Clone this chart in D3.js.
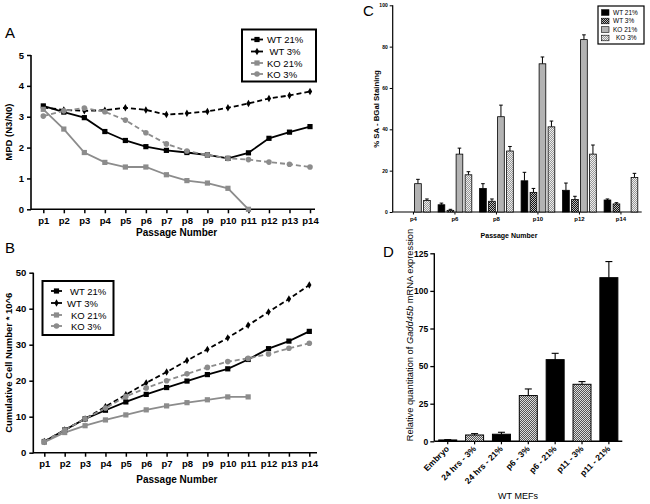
<!DOCTYPE html>
<html>
<head>
<meta charset="utf-8">
<script src="https://cdn.jsdelivr.net/npm/d3@7"></script>
<style>
html,body{margin:0;padding:0;background:#fff;}
svg{display:block;font-family:"Liberation Sans",Arial,sans-serif;}
</style>
</head>
<body>
<svg id="fig" width="650" height="504"></svg>
<script>
// ---------- DATA ----------
const passages = ["p1","p2","p3","p4","p5","p6","p7","p8","p9","p10","p11","p12","p13","p14"];
const seriesNames = ["WT 21%","WT 3%","KO 21%","KO 3%"];

// Panel A: MPD (N3/N0)
const mpdWT21 = [3.35,3.15,2.97,2.52,2.23,2.03,1.91,1.84,1.76,1.65,1.83,2.30,2.50,2.68];
const mpdWT3  = [3.30,3.22,3.19,3.21,3.29,3.22,3.07,3.11,3.17,3.29,3.43,3.59,3.69,3.82];
const mpdKO21 = [3.24,2.60,1.84,1.52,1.37,1.37,1.12,0.93,0.85,0.68,0.0];
const mpdKO3  = [3.02,3.19,3.28,3.16,2.89,2.48,2.12,1.89,1.76,1.65,1.61,1.53,1.46,1.37];
const mpdTicks = [0,1,2,3,4,5];

// Panel B: cumulative cell number * 10^6
const cumWT21 = [3.1,6.3,9.4,11.8,14.1,16.2,18.1,19.9,21.7,23.3,25.9,28.9,31.0,33.7];
const cumWT3  = [3.1,6.3,9.4,12.8,16.1,19.4,22.4,25.6,28.7,31.9,35.4,39.1,42.7,46.6];
const cumKO21 = [2.9,5.6,7.5,9.1,10.5,11.9,13.0,13.9,14.7,15.5,15.5];
const cumKO3  = [3.1,6.3,9.4,12.4,15.6,18.0,20.0,21.9,23.7,25.3,26.2,27.4,29.0,30.4];
const cumTicks = [0,10,20,30,40,50];

// Panel C: % SA-BGal staining (mean, error)
const sagPassages = ["p4","p6","p8","p10","p12","p14"];
const sagWT21 = [0,3.5,11.4,15.1,10.5,5.8];
const sagWT21Err = [0,0.8,2.3,4.1,3.5,0.5];
const sagWT3  = [0,0.8,5.2,9.5,6.0,3.9];
const sagWT3Err = [0,0.5,1.1,1.9,1.6,0.6];
const sagKO21 = [13.7,28.0,46.1,71.7,83.4,0];
const sagKO21Err = [2.1,2.9,5.6,3.3,2.3,0];
const sagKO3  = [5.6,18.0,29.5,41.2,28.0,16.7];
const sagKO3Err = [0.7,1.5,2.2,2.8,4.4,2.0];
const sagTicks = [0,20,40,60,80,100];

// Panel D: Gadd45b expression
const gaddCats = ["Embryo","24 hrs - 3%","24 hrs - 21%","p6 - 3%","p6 - 21%","p11 - 3%","p11 - 21%"];
const gaddVals = [0.9,4.2,4.7,30.4,54.3,37.9,108.8];
const gaddErr  = [0.2,0.9,1.3,4.4,4.2,1.8,10.7];
const gaddOxy  = ["21","3","21","3","21","3","21"];
const gaddTicks = [0,25,50,75,100,125];

// ---------- DRAWING ----------
const svg = d3.select("#fig");
const defs = svg.append("defs");
function checker(id, bg, dot){
  const p = defs.append("pattern").attr("id",id).attr("width",2).attr("height",2)
    .attr("patternUnits","userSpaceOnUse");
  p.append("rect").attr("width",2).attr("height",2).attr("fill",bg);
  p.append("rect").attr("width",1).attr("height",1).attr("fill",dot);
  p.append("rect").attr("x",1).attr("y",1).attr("width",1).attr("height",1).attr("fill",dot);
}
checker("chkDark","#111","#bbb");
checker("chkLight","#999","#eee");
checker("chkMid","#555","#ddd");

const GRAY = "#8c8c8c";
const styles = [
  {color:"#000", dash:null, marker:"square"},
  {color:"#000", dash:"5,3", marker:"diamond"},
  {color:GRAY, dash:null, marker:"square"},
  {color:GRAY, dash:"5,3", marker:"circle"}
];

function drawMarker(g, type, x, y, color){
  if(type==="square"){
    g.append("rect").attr("x",x-2.6).attr("y",y-2.6).attr("width",5.2).attr("height",5.2).attr("fill",color);
  } else if(type==="diamond"){
    g.append("path").attr("d",d3.symbol(d3.symbolDiamond,16)()).attr("transform",`translate(${x},${y})`).attr("fill",color);
  } else {
    g.append("circle").attr("cx",x).attr("cy",y).attr("r",2.8).attr("fill",color);
  }
}

function linePanel(opts){
  const g = svg.append("g");
  const x = d3.scalePoint().domain(passages).range([opts.x1,opts.x2]);
  const y = d3.scaleLinear().domain([0,opts.ymax]).range([opts.y0,opts.ytop]);
  const ya = g.append("g").attr("transform",`translate(${opts.ax},0)`)
    .call(d3.axisLeft(y).tickValues(opts.ticks).tickFormat(d3.format("d")).tickSize(4).tickSizeOuter(0));
  ya.select(".domain").remove();
  ya.selectAll("text").attr("font-weight","bold").attr("font-size",9.5).attr("fill","#000").attr("font-family","Liberation Sans, Arial");
  ya.selectAll("line").attr("stroke-width",1.5);
  g.append("line").attr("x1",opts.ax).attr("x2",opts.ax).attr("y1",opts.y0+0.75).attr("y2",opts.ytop).attr("stroke","#000").attr("stroke-width",1.6);
  const xa = g.append("g").attr("transform",`translate(0,${opts.y0})`)
    .call(d3.axisBottom(x).tickSize(4).tickSizeOuter(0).tickPadding(4));
  xa.select(".domain").remove();
  xa.selectAll("text").attr("font-weight","bold").attr("font-size",9.5).attr("fill","#000").attr("font-family","Liberation Sans, Arial");
  xa.selectAll("line").attr("stroke-width",1.5);
  g.append("line").attr("x1",opts.ax).attr("x2",opts.axEnd).attr("y1",opts.y0).attr("y2",opts.y0).attr("stroke","#000").attr("stroke-width",1.6);
  g.append("text").attr("x",(opts.x1+opts.x2)/2).attr("y",opts.xlabY).attr("text-anchor","middle")
    .attr("font-weight","bold").attr("font-size",10).text("Passage Number");
  g.append("text").attr("transform",`translate(${opts.ylabX},${(opts.y0+opts.ytop)/2}) rotate(-90)`)
    .attr("text-anchor","middle").attr("font-weight","bold").attr("font-size",opts.ylabSize).text(opts.ylab);
  const line = d3.line().x((d,i)=>x(passages[i])).y(d=>y(d));
  opts.data.forEach((arr,k)=>{
    const s = styles[k];
    g.append("path").datum(arr).attr("d",line).attr("fill","none").attr("stroke",s.color)
      .attr("stroke-width",1.8).attr("stroke-dasharray",s.dash);
  });
  opts.data.forEach((arr,k)=>{
    const s = styles[k];
    arr.forEach((d,i)=>drawMarker(g,s.marker,x(passages[i]),y(d),s.color));
  });
  const L = opts.legend;
  g.append("rect").attr("x",L.x).attr("y",L.y).attr("width",L.w).attr("height",L.h)
    .attr("fill","#fff").attr("stroke","#000").attr("stroke-width",2);
  seriesNames.forEach((n,k)=>{
    const s = styles[k];
    const yy = L.rows[k];
    g.append("line").attr("x1",L.lx1).attr("x2",L.lx2).attr("y1",yy).attr("y2",yy)
      .attr("stroke",s.color).attr("stroke-width",1.8);
    drawMarker(g,s.marker,(L.lx1+L.lx2)/2,yy,s.color);
    g.append("text").attr("x",L.tx[k]).attr("y",yy+3.5).attr("font-size",9.5).text(n);
  });
}

linePanel({x1:43.3,x2:310,ax:31,axEnd:315,y0:209.3,ytop:55,ymax:5,ticks:mpdTicks,
  data:[mpdWT21,mpdWT3,mpdKO21,mpdKO3], xlabY:236, ylabX:12, ylab:"MPD (N3/N0)", ylabSize:9.5,
  legend:{x:242,y:29.5,w:74,h:52,lx1:251,lx2:263,tx:[267,269.5,267,267],rows:[39.5,51.5,63,74]}});
linePanel({x1:44.3,x2:309.3,ax:33.3,axEnd:317,y0:452.7,ytop:272.7,ymax:50,ticks:cumTicks,
  data:[cumWT21,cumWT3,cumKO21,cumKO3], xlabY:483, ylabX:12, ylab:"Cumulative Cell Number * 10^6", ylabSize:9.5,
  legend:{x:42.5,y:281,w:71,h:54,lx1:51,lx2:62,tx:[70,67,71,71],rows:[291,303,315,326]}});

[["A",5,38],["B",5,253],["C",363,16],["D",383,257]].forEach(([t,x,y])=>{
  svg.append("text").attr("x",x).attr("y",y).attr("font-size",15).text(t);
});

// Panel C
(function(){
  const g = svg.append("g");
  const ax = 392.7, axEnd = 641.7, y0 = 212, ytop = 5.3;
  const x0 = d3.scaleBand().domain(sagPassages).range([ax,axEnd]);
  const x1 = d3.scaleBand().domain(seriesNames).range([0,33.7]).paddingInner(0.256);
  const off = (x0.bandwidth()-33.7)/2;
  const y = d3.scaleLinear().domain([0,100]).range([y0,ytop]);
  const ya = g.append("g").attr("transform",`translate(${ax},0)`)
    .call(d3.axisLeft(y).tickValues(sagTicks).tickSize(3).tickPadding(2));
  ya.select(".domain").remove();
  ya.selectAll("text").attr("font-weight","bold").attr("font-size",5).attr("fill","#000").attr("font-family","Liberation Sans, Arial");
  g.append("line").attr("x1",ax).attr("x2",ax).attr("y1",y0).attr("y2",ytop).attr("stroke","#000").attr("stroke-width",1.2);
  const xa = g.append("g").attr("transform",`translate(0,${y0})`)
    .call(d3.axisBottom(x0).tickSize(2.5).tickPadding(2));
  xa.select(".domain").remove();
  xa.selectAll("text").attr("font-weight","bold").attr("font-size",6).attr("fill","#000").attr("font-family","Liberation Sans, Arial");
  g.append("line").attr("x1",ax).attr("x2",axEnd).attr("y1",y0).attr("y2",y0).attr("stroke","#000").attr("stroke-width",1.2);
  g.append("text").attr("x",509).attr("y",238).attr("text-anchor","middle").attr("font-weight","bold").attr("font-size",7).text("Passage Number");
  g.append("text").attr("transform",`translate(379,109) rotate(-90)`).attr("text-anchor","middle")
    .attr("font-weight","bold").attr("font-size",7.8).text("% SA - BGal Staining");
  const vals = [sagWT21,sagWT3,sagKO21,sagKO3];
  const errs = [sagWT21Err,sagWT3Err,sagKO21Err,sagKO3Err];
  const fills = ["#000","url(#chkDark)","#b3b3b3","url(#chkLight)"];
  sagPassages.forEach((p,i)=>{
    seriesNames.forEach((s,k)=>{
      const v = vals[k][i];
      if(v<=0) return;
      const bx = x0(p)+off+x1(s), bw = x1.bandwidth();
      const e = v + errs[k][i];
      const cx = bx+bw/2;
      g.append("line").attr("x1",cx).attr("x2",cx).attr("y1",y(v)).attr("y2",y(e)).attr("stroke","#000").attr("stroke-width",1);
      g.append("line").attr("x1",cx-1.8).attr("x2",cx+1.8).attr("y1",y(e)).attr("y2",y(e)).attr("stroke","#000").attr("stroke-width",1);
      g.append("rect").attr("x",bx).attr("y",y(v)).attr("width",bw).attr("height",y0-y(v))
        .attr("fill",fills[k]).attr("stroke","#000").attr("stroke-width",0.8);
    });
  });
  g.append("rect").attr("x",598).attr("y",6).attr("width",46).attr("height",38).attr("fill","#fff").attr("stroke","#000").attr("stroke-width",1.2);
  const rows = [12.5,21,29.5,38];
  const tx = [613,613,613,616];
  seriesNames.forEach((n,k)=>{
    g.append("rect").attr("x",601.5).attr("y",rows[k]-2.8).attr("width",7.5).attr("height",5.6)
      .attr("fill",fills[k]).attr("stroke","#000").attr("stroke-width",0.6);
    g.append("text").attr("x",tx[k]).attr("y",rows[k]+2.3).attr("font-size",6.5).text(n);
  });
})();

// Panel D
(function(){
  const g = svg.append("g");
  const ax = 434.3, axEnd = 622.3, y0 = 441.3, ytop = 253.3;
  const x = d3.scaleBand().domain(gaddCats).range([ax,axEnd]).paddingInner(0.33).paddingOuter(0.165);
  const y = d3.scaleLinear().domain([0,125]).range([y0,ytop]);
  const ya = g.append("g").attr("transform",`translate(${ax},0)`)
    .call(d3.axisLeft(y).tickValues(gaddTicks).tickSize(4).tickPadding(2));
  ya.select(".domain").remove();
  ya.selectAll("text").attr("font-weight","bold").attr("font-size",8.5).attr("fill","#000").attr("font-family","Liberation Sans, Arial");
  ya.selectAll("line").attr("stroke-width",1.3);
  g.append("line").attr("x1",ax).attr("x2",ax).attr("y1",y0).attr("y2",ytop).attr("stroke","#000").attr("stroke-width",1.4);
  const xa = g.append("g").attr("transform",`translate(0,${y0})`)
    .call(d3.axisBottom(x).tickSize(3).tickSizeOuter(0));
  xa.select(".domain").remove();
  xa.selectAll("line").attr("stroke-width",1.2);
  xa.selectAll("text").attr("font-weight","bold").attr("font-size",8.5).attr("fill","#000").attr("font-family","Liberation Sans, Arial")
    .attr("text-anchor","end").attr("dy",null).attr("y",0)
    .attr("transform","translate(2,8) rotate(-45)");
  g.append("line").attr("x1",ax).attr("x2",axEnd).attr("y1",y0).attr("y2",y0).attr("stroke","#000").attr("stroke-width",1.4);
  g.append("text").attr("x",518).attr("y",499).attr("text-anchor","middle").attr("font-size",9).text("WT MEFs");
  const yl = g.append("text").attr("transform",`translate(413,335) rotate(-90)`).attr("text-anchor","middle")
    .attr("font-size",9.3);
  yl.append("tspan").text("Relative quantitation of ");
  yl.append("tspan").attr("font-style","italic").text("Gadd45b");
  yl.append("tspan").text(" mRNA expression");
  gaddCats.forEach((c,i)=>{
    const v = gaddVals[i], e = v + gaddErr[i];
    const bx = x(c), bw = x.bandwidth(), cx = bx+bw/2;
    g.append("line").attr("x1",cx).attr("x2",cx).attr("y1",y(v)).attr("y2",y(e)).attr("stroke","#000").attr("stroke-width",1.1);
    g.append("line").attr("x1",cx-3.5).attr("x2",cx+3.5).attr("y1",y(e)).attr("y2",y(e)).attr("stroke","#000").attr("stroke-width",1.1);
    g.append("rect").attr("x",bx).attr("y",y(v)).attr("width",bw).attr("height",y0-y(v))
      .attr("fill",gaddOxy[i]==="3"?"url(#chkMid)":"#000").attr("stroke","#000").attr("stroke-width",1);
  });
})();
</script>
</body>
</html>
